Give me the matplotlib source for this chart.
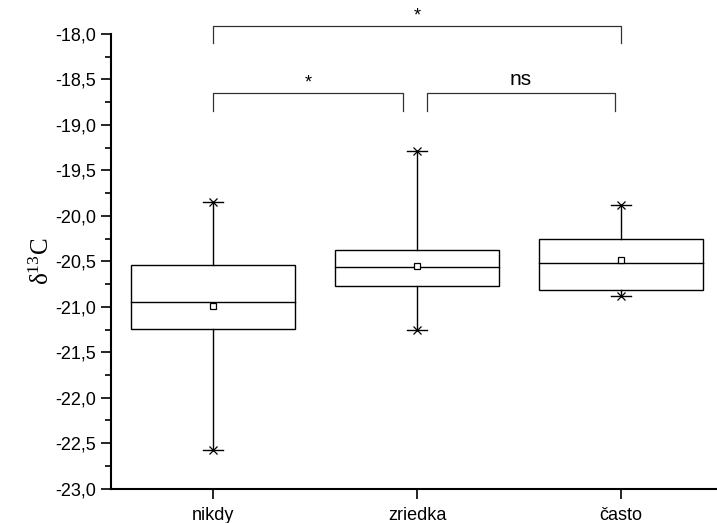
import matplotlib
matplotlib.use("Agg")
import matplotlib.pyplot as plt

plt.rcParams['font.family'] = ['Liberation Sans', 'DejaVu Sans']

categories = ["nikdy", "zriedka", "často"]
whisker_low = [-22.57, -21.25, -20.88]
q1 = [-21.24, -20.77, -20.82]
median = [-20.95, -20.56, -20.52]
q3 = [-20.54, -20.38, -20.25]
whisker_high = [-19.85, -19.29, -19.88]
means = [-20.99, -20.55, -20.48]

# significance brackets: (left group, right group, height, drop, label)
brackets = [(0, 2, -17.91, 0.19, "*"),
            (0, 1, -18.65, 0.20, "*"),
            (1, 2, -18.65, 0.20, "ns")]

yticks = [-23.0, -22.5, -22.0, -21.5, -21.0, -20.5, -20.0, -19.5, -19.0, -18.5, -18.0]

fig = plt.figure(figsize=(7.17, 5.23), dpi=100)
ax = fig.add_axes([111/717, 1 - 488.7/523, 1 - 111/717, (488.7 - 34)/523])

pos = [1, 2, 3]
box_w = 0.8
cap_w = 0.1
lw = 1.0
for i, x in enumerate(pos):
    # box
    ax.add_patch(plt.Rectangle((x - box_w/2, q1[i]), box_w, q3[i] - q1[i],
                               fill=False, edgecolor='black', lw=lw))
    ax.plot([x - box_w/2, x + box_w/2], [median[i]] * 2, color='black', lw=lw)
    # whiskers
    ax.plot([x, x], [q3[i], whisker_high[i]], color='black', lw=lw)
    ax.plot([x, x], [q1[i], whisker_low[i]], color='black', lw=lw)
    for yv in (whisker_low[i], whisker_high[i]):
        ax.plot([x - cap_w/2, x + cap_w/2], [yv, yv], color='black', lw=lw)
        ax.plot([x], [yv], marker='x', ms=6, mew=0.9, color='black')
    ax.plot([x], [means[i]], marker='s', ms=4.5, mfc='white', mec='black', mew=0.9)

for a, b, h, d, lab in brackets:
    xa, xb = pos[a], pos[b]
    if a == 0 and b == 1:
        xb = xb - 0.07
    if a == 1 and b == 2:
        xa = xa + 0.05
        xb = xb - 0.03
    ax.plot([xa, xa, xb, xb], [h - d, h, h, h - d], color='#333333', lw=0.9,
            clip_on=False)
    if lab == "*":
        ax.text((xa + xb) / 2, h + 0.02, lab, ha='center', va='bottom',
                fontsize=13, clip_on=False)
    else:
        ax.text((xa + xb) / 2, h + 0.04, lab, ha='center', va='bottom',
                fontsize=15, clip_on=False)

ax.set_xlim(0.5, 3.47)
ax.set_ylim(-23.0, -18.0)
ax.set_xticks(pos)
ax.set_xticklabels(categories, fontsize=13)
ax.set_yticks(yticks)
ax.set_yticklabels([f"{v:.1f}".replace(".", ",") for v in yticks], fontsize=13)
ax.set_yticks([v + 0.25 for v in yticks[:-1]], minor=True)
ax.tick_params(axis='both', which='major', direction='out', length=7, width=1.2)
ax.tick_params(axis='x', which='major', pad=6)
ax.tick_params(axis='y', which='minor', direction='out', length=4, width=1.2)
for s in ('top', 'right'):
    ax.spines[s].set_visible(False)
for s in ('left', 'bottom'):
    ax.spines[s].set_linewidth(1.5)

fig.text(0.058, 0.5, "δ$\\mathregular{^{13}}$C", rotation=90, ha='center', va='center',
         fontsize=18, family=['Liberation Serif'])

fig.savefig("out.png", dpi=100)
